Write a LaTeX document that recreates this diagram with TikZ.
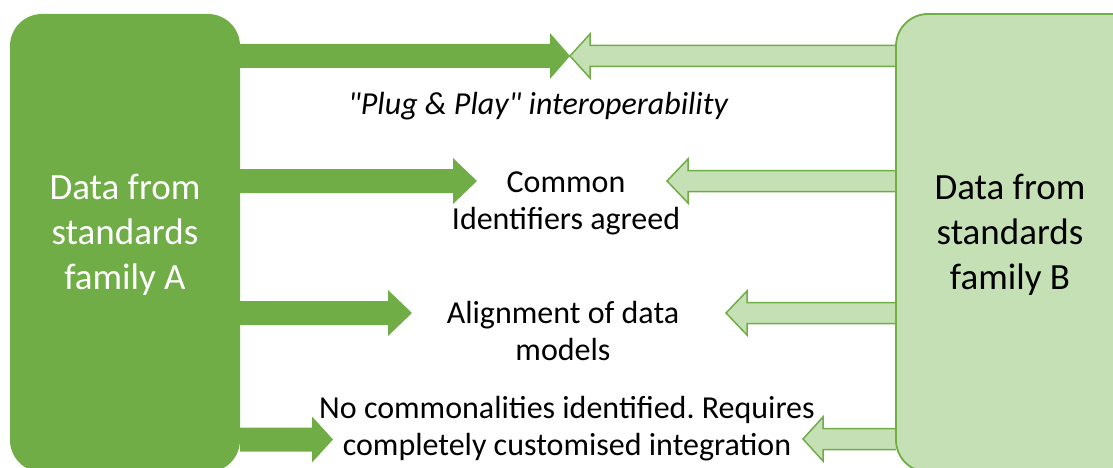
\documentclass[tikz,border=0pt]{standalone}
\usepackage{fontspec}
\setmainfont{Carlito}[Ligatures=TeXOff]
\frenchspacing
\definecolor{darkg}{HTML}{70AD47}
\definecolor{lightg}{HTML}{C5E0B4}
\tikzset{
  boxA/.style={fill=darkg, rounded corners=32pt, inner sep=0pt},
  boxB/.style={fill=lightg, draw=darkg, line width=1.8pt, rounded corners=32pt, inner sep=0pt},
  boxtext/.style={align=center, font=\fontsize{37}{45}\selectfont, inner sep=0pt},
  midtext/.style={align=center, font=\fontsize{32}{37}\selectfont, inner sep=0pt},
  lightarrow/.style={fill=lightg, draw=darkg, line width=1.5pt, line join=miter},
}
\newcommand{\rblock}[3]{\fill[darkg] (A.east |- 0,{#1-12}) -- ({#2},{#1-12}) -- ({#2},{#1-23}) -- ({#3},#1) -- ({#2},{#1+23}) -- ({#2},{#1+12}) -- (A.east |- 0,{#1+12}) -- cycle;}
\newcommand{\lblock}[3]{\filldraw[lightarrow] (Bw |- 0,{#1-10.5}) -- ({#2},{#1-10.5}) -- ({#2},{#1-22}) -- ({#3},#1) -- ({#2},{#1+22}) -- ({#2},{#1+10.5}) -- (Bw |- 0,{#1+10.5});}
\begin{document}
\begin{tikzpicture}[x=1pt,y=-1pt]
\useasboundingbox (0,0) rectangle (1113,468);
% left box
\node[boxA, minimum width=230pt, minimum height=458pt] (A) at (125,243) {};
\coordinate (Bw) at (896,243);
% right-pointing dark arrows
\rblock{56}{550}{570}
\rblock{181}{453}{477}
\rblock{313}{388}{412}
\rblock{439.5}{312}{333}
% left-pointing light arrows
\lblock{56}{590}{570}
\lblock{181}{688}{667}
\lblock{313}{747}{726}
\lblock{439}{823}{803}
% right box
\node[boxB, minimum width=250pt, minimum height=458pt] (B) at (1021,243) {};
% texts
\node[boxtext, text=white] (ta) at (125,235) {Data from\\standards\\family A};
\node[boxtext] (tb) at (1010,235) {Data from\\standards\\family B};
\node[midtext, font=\fontsize{32}{37}\selectfont\itshape] (t1) at (538,106) {"Plug \& Play" interoperability};
\node[midtext] (t2) at (566,203) {Common\\Identifiers agreed};
\node[midtext] (t3) at (563,331) {Alignment of data\\models};
\node[midtext] (t4) at (567,429) {No commonalities identified. Requires\\completely customised integration};
\end{tikzpicture}
\end{document}
